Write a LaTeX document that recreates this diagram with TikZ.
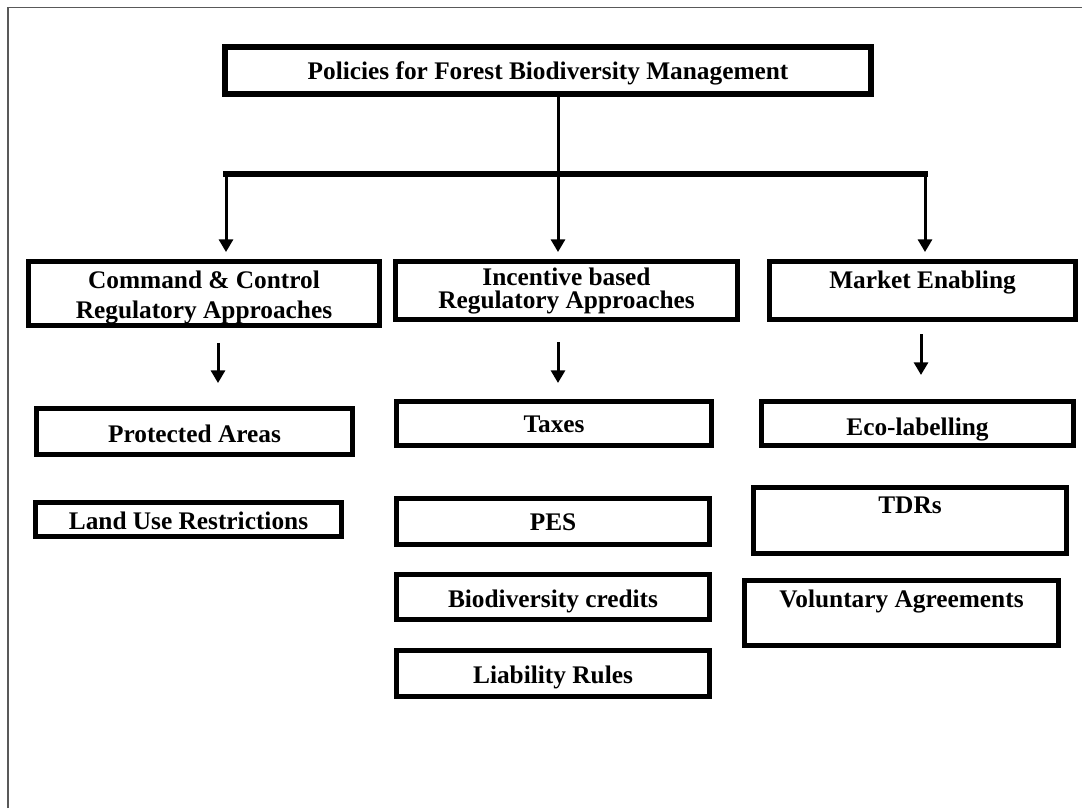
\documentclass[tikz,border=0pt]{standalone}
\usepackage{fontspec}
\setmainfont{Liberation Serif}
\usetikzlibrary{arrows.meta}
\newcommand\twoln[3]{\vtop{\baselineskip=#1\lineskiplimit=-100pt\lineskip=0pt\halign{\hfil##\hfil\cr#2\cr#3\cr}}}
\begin{document}
\begin{tikzpicture}[x=0.75pt,y=-0.75pt,
  box/.style={draw, line width=3.75pt, inner sep=0pt, outer sep=0pt,
    font=\fontsize{19pt}{22pt}\selectfont\bfseries},
  arr/.style={line width=2.25pt, -{Triangle[width=10.5pt,length=9.5pt]}},
  ln/.style={line width=2.25pt},
  bar/.style={line width=4.5pt, line cap=rect},
  frame/.style={line width=0.9pt, black!65}]
\useasboundingbox (0,0) rectangle (1082,808);
\draw[frame] (8,808) -- (8,7.5) -- (1082,7.5);

% top
\node[box, line width=4.5pt, minimum width=484.5pt, minimum height=35.25pt,
  text height=12.75pt, text depth=0pt] (top) at (548,70.5)
  {Policies for Forest Biodiversity Management};

% second row
\node[box, minimum width=263.25pt, minimum height=48pt,
  text height=0pt, text depth=8.25pt] (cmd) at (204,293.5)
  {\twoln{22.5pt}{Command \& Control}{Regulatory Approaches}};
\node[box, minimum width=256.5pt, minimum height=43.5pt,
  text height=0pt, text depth=8.25pt] (inc) at (566.5,290.5)
  {\twoln{17.5pt}{Incentive based}{Regulatory Approaches}};
\node[box, minimum width=229.5pt, minimum height=43.5pt,
  text height=0pt, text depth=3.75pt] (mkt) at (922.5,290.5)
  {Market Enabling};

% left column
\node[box, minimum width=237pt, minimum height=34.5pt,
  text height=15.75pt, text depth=0pt] (prot) at (194.5,431.5) {Protected Areas};
\node[box, minimum width=229.5pt, minimum height=25.5pt,
  text height=14.25pt, text depth=0pt] (land) at (188.5,519.5) {Land Use Restrictions};

% middle column
\node[box, minimum width=236.25pt, minimum height=33pt,
  text height=12.75pt, text depth=0pt] (tax) at (554,423.5) {Taxes};
\node[box, minimum width=234.75pt, minimum height=34.5pt,
  text height=12.75pt, text depth=0pt] (pes) at (553,521.5) {PES};
\node[box, minimum width=234.75pt, minimum height=33.75pt,
  text height=15pt, text depth=0pt] (bio) at (553,597) {Biodiversity credits};
\node[box, minimum width=234.75pt, minimum height=34.5pt,
  text height=14.25pt, text depth=0pt] (liab) at (553,673.5) {Liability Rules};

% right column
\node[box, minimum width=234pt, minimum height=33pt,
  text height=17.25pt, text depth=0pt] (eco) at (917.5,423.5) {Eco-labelling};
\node[box, minimum width=234.75pt, minimum height=49.5pt,
  text height=0pt, text depth=11.25pt] (tdr) at (910,520.5) {TDRs};
\node[box, minimum width=235.5pt, minimum height=48.75pt,
  text height=0pt, text depth=9pt] (vol) at (901.5,613) {Voluntary Agreements};

% connectors
\coordinate (j) at (558,174);
\coordinate (b1) at (226,174);
\coordinate (b3) at (925,174);
\coordinate (a1) at (218,0);
\coordinate (a3) at (921,0);
\draw[ln] (top.south -| j) -- (j);
\draw[bar] (b1) -- (b3);
\draw[arr, shorten >=7.1pt] (b1) -- (cmd.north -| b1);
\draw[arr, shorten >=7.1pt] (j) -- (inc.north -| j);
\draw[arr, shorten >=7.1pt] (b3) -- (mkt.north -| b3);
\draw[arr, shorten <=13.1pt, shorten >=19.1pt] (cmd.south -| a1) -- (prot.north -| a1);
\draw[arr, shorten <=16.9pt, shorten >=13.9pt] (inc.south -| j) -- (tax.north -| j);
\draw[arr, shorten <=10.9pt, shorten >=19.9pt] (mkt.south -| a3) -- (eco.north -| a3);
\end{tikzpicture}
\end{document}
